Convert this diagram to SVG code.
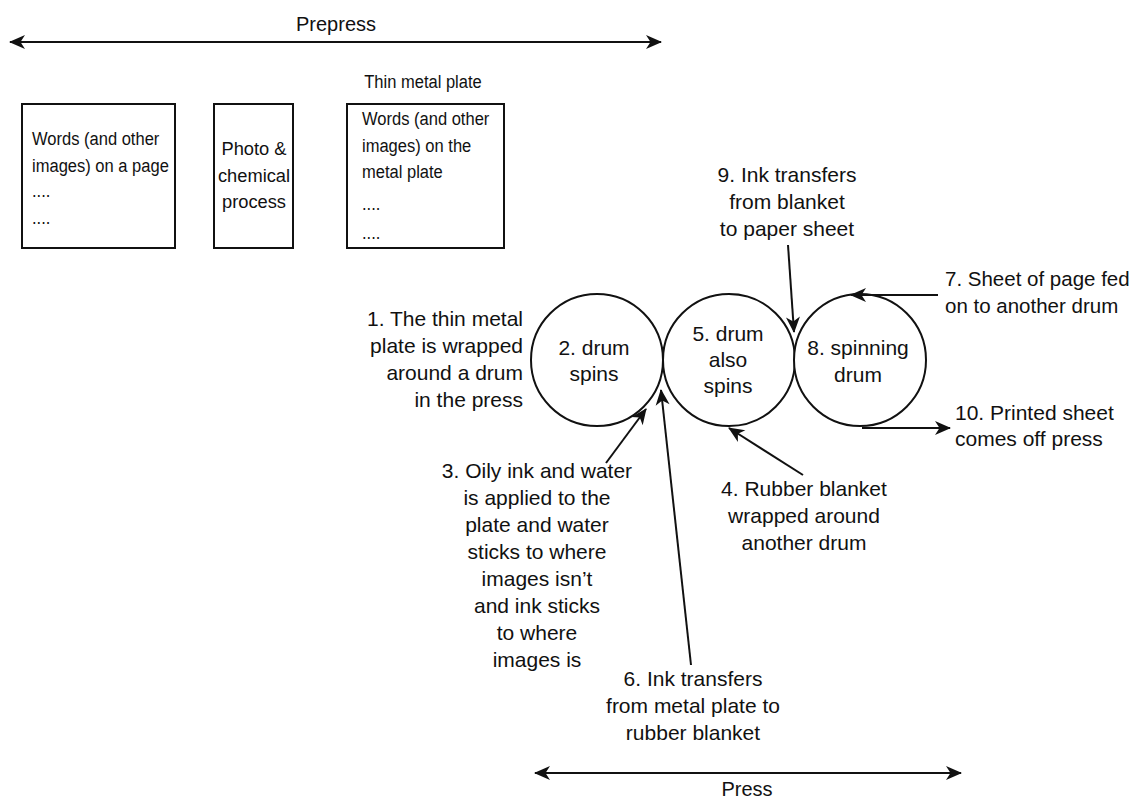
<svg xmlns="http://www.w3.org/2000/svg" width="1133" height="799" viewBox="0 0 1133 799">
<defs>
<style>
.lbl{font-family:"Liberation Sans",Arial,sans-serif;font-size:21px;fill:#111}
.box{font-family:"Liberation Sans",Arial,sans-serif;font-size:19px;fill:#111}
.mid{text-anchor:middle}
.end{text-anchor:end}
.node{fill:#fff;stroke:#111;stroke-width:2}
.conn{fill:none;stroke:#111;stroke-width:2}
</style>
<marker id="ah" viewBox="-16 -8 17 16" refX="0" refY="0" markerWidth="17" markerHeight="16" markerUnits="userSpaceOnUse" orient="auto-start-reverse">
<path d="M1,0 L-15,-7 L-10.5,0 L-15,7 Z" fill="#111"/>
</marker>
</defs>
<rect width="1133" height="799" fill="#fff"/>

<g id="prepress">
<text class="lbl mid" x="336" y="31" style="font-size:20px">Prepress</text>
</g>
<g id="box-page">
<rect class="node" x="22" y="104" width="153" height="144" stroke-width="1.8"/>
<g transform="scale(0.87,1)">
<text class="box" x="36.8" y="145">Words (and other</text>
<text class="box" x="36.8" y="172">images) on a page</text>
<text class="box" x="36.8" y="197">....</text>
<text class="box" x="36.8" y="224">....</text>
</g>
</g>
<g id="box-process">
<rect class="node" x="214" y="104" width="79" height="144" stroke-width="1.8"/>
<text class="box mid" x="254" y="155" style="font-size:18.3px">Photo &amp;</text>
<text class="box mid" x="254" y="182" style="font-size:18.3px">chemical</text>
<text class="box mid" x="254" y="208" style="font-size:18.3px">process</text>
</g>
<g id="box-plate">
<g transform="scale(0.87,1)">
<text class="box mid" x="486.2" y="88">Thin metal plate</text>
</g>
<rect class="node" x="347" y="104" width="157" height="144" stroke-width="1.8"/>
<g transform="scale(0.87,1)">
<text class="box" x="416.1" y="125">Words (and other</text>
<text class="box" x="416.1" y="152">images) on the</text>
<text class="box" x="416.1" y="178">metal plate</text>
<text class="box" x="416.1" y="210">....</text>
<text class="box" x="416.1" y="239">....</text>
</g>
</g>

<g id="drum1">
<circle class="node" cx="597" cy="360" r="66"/>
<text class="lbl mid" x="594" y="355">2. drum</text>
<text class="lbl mid" x="594" y="381">spins</text>
</g>
<g id="drum2">
<circle class="node" cx="729" cy="360" r="66"/>
<text class="lbl mid" x="728" y="341">5. drum</text>
<text class="lbl mid" x="728" y="367">also</text>
<text class="lbl mid" x="728" y="393">spins</text>
</g>
<g id="drum3">
<circle class="node" cx="860" cy="360" r="66"/>
<text class="lbl mid" x="858" y="355">8. spinning</text>
<text class="lbl mid" x="858" y="382">drum</text>
</g>

<g id="label1">
<text class="lbl end" x="523" y="326">1. The thin metal</text>
<text class="lbl end" x="523" y="353">plate is wrapped</text>
<text class="lbl end" x="523" y="380">around a drum</text>
<text class="lbl end" x="523" y="407">in the press</text>
</g>
<g id="label3">
<text class="lbl mid" x="537" y="478">3. Oily ink and water</text>
<text class="lbl mid" x="537" y="505">is applied to the</text>
<text class="lbl mid" x="537" y="532">plate and water</text>
<text class="lbl mid" x="537" y="559">sticks to where</text>
<text class="lbl mid" x="537" y="586">images isn’t</text>
<text class="lbl mid" x="537" y="613">and ink sticks</text>
<text class="lbl mid" x="537" y="640">to where</text>
<text class="lbl mid" x="537" y="667">images is</text>
</g>
<g id="label4">
<text class="lbl mid" x="804" y="496">4. Rubber blanket</text>
<text class="lbl mid" x="804" y="523">wrapped around</text>
<text class="lbl mid" x="804" y="550">another drum</text>
</g>
<g id="label6">
<text class="lbl mid" x="693" y="686">6. Ink transfers</text>
<text class="lbl mid" x="693" y="713">from metal plate to</text>
<text class="lbl mid" x="693" y="740">rubber blanket</text>
</g>
<g id="label7">
<text class="lbl" x="945" y="286" style="font-size:20.5px">7. Sheet of page fed</text>
<text class="lbl" x="945" y="313" style="font-size:20.5px">on to another drum</text>
</g>
<g id="label9">
<text class="lbl mid" x="787" y="182">9. Ink transfers</text>
<text class="lbl mid" x="787" y="209">from blanket</text>
<text class="lbl mid" x="787" y="236">to paper sheet</text>
</g>
<g id="label10">
<text class="lbl" x="955" y="420">10. Printed sheet</text>
<text class="lbl" x="955" y="446">comes off press</text>
</g>
<g id="press">
<text class="lbl mid" x="747" y="796" style="font-size:20px">Press</text>
</g>

<g id="connectors">
<line class="conn" x1="10" y1="42" x2="661" y2="42" marker-start="url(#ah)" marker-end="url(#ah)"/>
<line class="conn" x1="535" y1="773" x2="961" y2="773" marker-start="url(#ah)" marker-end="url(#ah)"/>
<line class="conn" x1="606" y1="463" x2="646" y2="409" marker-end="url(#ah)"/>
<line class="conn" x1="691" y1="665" x2="661" y2="390" marker-end="url(#ah)"/>
<line class="conn" x1="803" y1="475" x2="729" y2="428" marker-end="url(#ah)"/>
<line class="conn" x1="788" y1="245" x2="794" y2="332" marker-end="url(#ah)"/>
<line class="conn" x1="938" y1="295" x2="851" y2="295" marker-end="url(#ah)"/>
<line class="conn" x1="862" y1="428" x2="950" y2="428" marker-end="url(#ah)"/>
</g>
</svg>
